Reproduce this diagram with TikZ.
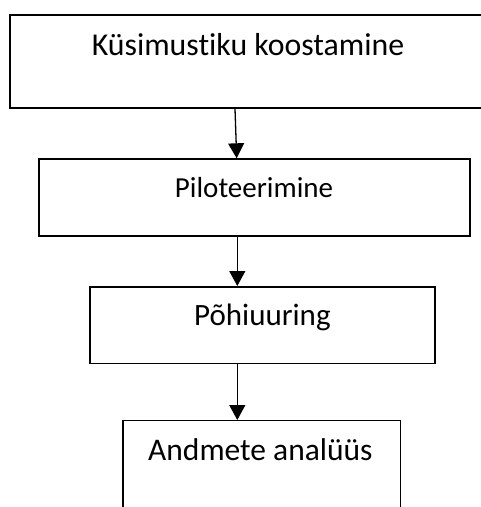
\documentclass[tikz,border=0pt]{standalone}
\usepackage{fontspec}
\setmainfont[Ligatures=NoCommon,RawFeature={-liga;-clig;-dlig}]{Carlito}
\usetikzlibrary{arrows.meta}
\begin{document}
\begin{tikzpicture}[x=1pt,y=-1pt,
  boxa/.style={draw=black,fill=none,inner sep=0pt,anchor=north west},
  lbl/.style={inner sep=0pt,anchor=base,text=black},
  arr/.style={draw=black,line width=1.3pt,-{Triangle[length=15pt,width=16pt]}}]
\useasboundingbox (0,0) rectangle (481,507);
\clip (0,0) rectangle (481,507);
\node[boxa,line width=2pt,minimum width=490pt,minimum height=92.7pt] (b1) at (8.5,14) {};
\node[boxa,line width=2pt,minimum width=431.6pt,minimum height=76.7pt] (b2) at (37.7,158.3) {};
\node[boxa,line width=1.6pt,minimum width=344.7pt,minimum height=76.7pt] (b3) at (89.3,286) {};
\node[boxa,line width=1.3pt,minimum width=277.7pt,minimum height=110pt] (b4) at (122.3,420) {};
\node[lbl,font=\fontsize{31.8}{36}\selectfont] (t1) at (248,55) {Küsimust\kern0pt iku koostamine};
\node[lbl,font=\fontsize{29}{34}\selectfont] (t2) at (254,197) {Piloteerimine};
\node[lbl,font=\fontsize{31}{36}\selectfont] (t3) at (262.4,325) {Põhiuuring};
\node[lbl,font=\fontsize{31.5}{36}\selectfont] (t4) at (260.4,460) {Andmete analüüs};
\draw[arr] (b1.south -| 235,0) -- (b2.north -| 236.7,0);
\draw[arr] (b2.south -| 237.3,0) -- (b3.north -| 237.3,0);
\draw[arr] (b3.south -| 237.3,0) -- (b4.north -| 237.3,0);
\end{tikzpicture}
\end{document}
